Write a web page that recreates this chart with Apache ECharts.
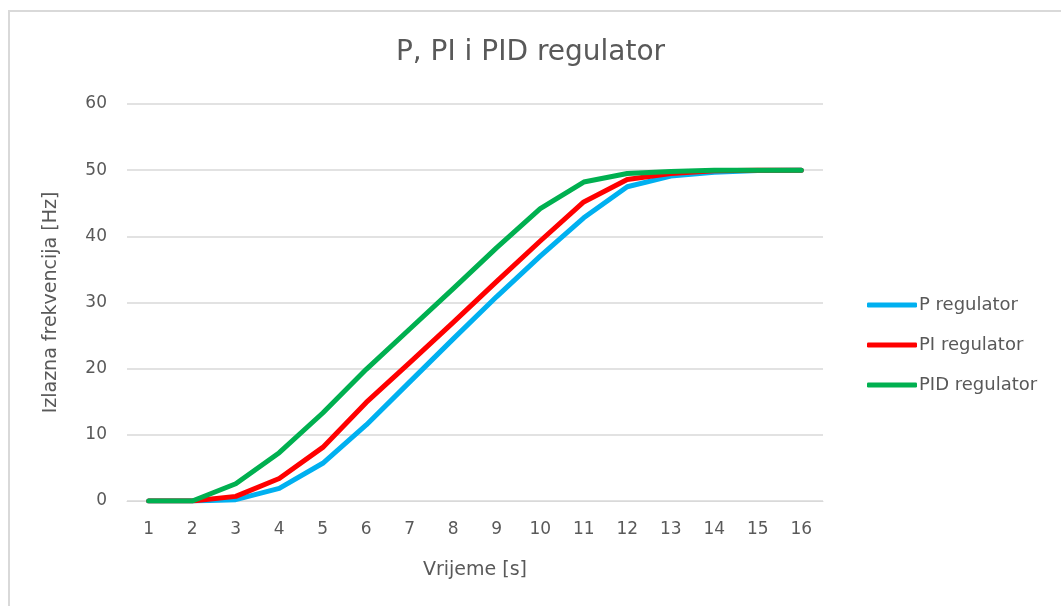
<!DOCTYPE html>
<html>
<head>
<meta charset="utf-8">
<script src="https://cdn.jsdelivr.net/npm/echarts@6/dist/echarts.min.js"></script>
<style>
    html, body { margin: 0; padding: 0; background: #fff; overflow: hidden; }
    #chart { width: 1061px; height: 606px; }
    #frame {
        position: absolute; left: 8px; top: 10px; width: 1053px; height: 596px;
        border-top: 2px solid #d9d9d9; border-left: 2px solid #d9d9d9;
        box-sizing: border-box; pointer-events: none;
    }
</style>
</head>
<body>
<div id="chart"></div>
<div id="frame"></div>
<script>
// time [s]
const times = ['1', '2', '3', '4', '5', '6', '7', '8', '9', '10', '11', '12', '13', '14', '15', '16'];
// output frequency [Hz]
const pValues = [0, 0, 0.2, 1.9, 5.7, 11.5, 18.0, 24.5, 30.9, 37.0, 42.8, 47.5, 49.1, 49.7, 49.95, 50];
const piValues = [0, 0, 0.7, 3.4, 8.1, 14.9, 20.9, 27.0, 33.2, 39.3, 45.2, 48.6, 49.5, 49.9, 50, 50];
const pidValues = [0, 0, 2.6, 7.3, 13.3, 19.9, 26.0, 32.1, 38.3, 44.2, 48.2, 49.5, 49.8, 50, 50, 50];
const seriesNames = ['P regulator', 'PI regulator', 'PID regulator'];
const seriesColors = ['#00b0f0', '#ff0000', '#00b050'];

const font = '"DejaVu Sans", "Open Sans", sans-serif';
const textColor = '#595959';

const chart = echarts.init(document.getElementById('chart'));

const series = [pValues, piValues, pidValues].map(function (values, i) {
    return {
        name: seriesNames[i],
        type: 'line',
        data: values,
        showSymbol: false,
        symbol: 'none',
        color: seriesColors[i],
        lineStyle: { width: 5, color: seriesColors[i], cap: 'round', join: 'round' },
        animation: false
    };
});

chart.setOption({
    animation: false,
    title: {
        text: 'P, PI i PID regulator',
        left: 'center',
        top: 34,
        textStyle: { fontFamily: font, fontSize: 28, fontWeight: 'normal', color: textColor }
    },
    legend: {
        orient: 'vertical',
        left: 862,
        top: 291,
        itemWidth: 50,
        itemHeight: 5,
        itemGap: 22,
        icon: 'roundRect',
        textStyle: { fontFamily: font, fontSize: 18, color: textColor, padding: [0, 0, 0, -3] },
        data: seriesNames
    },
    grid: {
        left: 127,
        right: 238,
        top: 104,
        bottom: 105,
        containLabel: false
    },
    xAxis: {
        type: 'category',
        data: times,
        boundaryGap: true,
        name: 'Vrijeme [s]',
        nameLocation: 'middle',
        nameGap: 60,
        nameTextStyle: { fontFamily: font, fontSize: 19, color: textColor },
        axisLine: { show: true, lineStyle: { color: '#d9d9d9', width: 1 } },
        axisTick: { show: false },
        axisLabel: { fontFamily: font, fontSize: 17, color: textColor, margin: 20 }
    },
    yAxis: {
        type: 'value',
        min: 0,
        max: 60,
        interval: 10,
        name: 'Izlazna frekvencija [Hz]',
        nameLocation: 'middle',
        nameGap: 66,
        nameRotate: 90,
        nameTextStyle: { fontFamily: font, fontSize: 19, color: textColor },
        axisLine: { show: false },
        axisTick: { show: false },
        axisLabel: { fontFamily: font, fontSize: 17, color: textColor, margin: 20 },
        splitLine: { lineStyle: { color: '#d9d9d9', width: 1.5 } }
    },
    series: series
});
</script>
</body>
</html>
